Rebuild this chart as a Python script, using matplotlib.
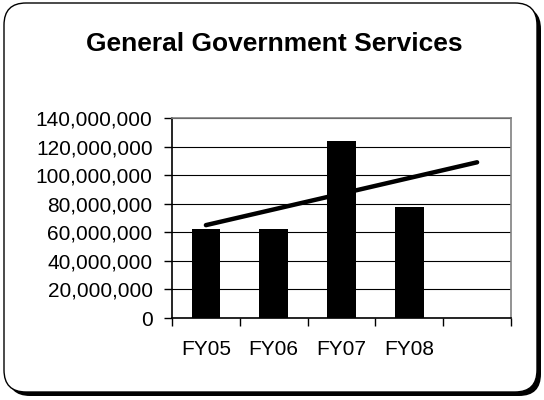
import numpy as np
import matplotlib
matplotlib.use('Agg')
from matplotlib import pyplot as plt
from matplotlib.patches import FancyBboxPatch
from matplotlib.ticker import FuncFormatter

categories = ['FY05', 'FY06', 'FY07', 'FY08', '']
spending = [62000000, 62000000, 124000000, 78000000]
title = 'General Government Services'

plt.rcParams['font.family'] = ['Liberation Sans', 'DejaVu Sans']

fig = plt.figure(figsize=(5.44, 4), dpi=100)

# background layer in pixel units for the rounded frame + shadow
bg = fig.add_axes([0, 0, 1, 1])
bg.set_xlim(0, 544)
bg.set_ylim(400, 0)
bg.axis('off')
shadow = FancyBboxPatch((8, 7), 533, 389, boxstyle='round,pad=0,rounding_size=22',
                        facecolor='black', edgecolor='black', lw=0)
frame = FancyBboxPatch((4, 3), 533, 389, boxstyle='round,pad=0,rounding_size=22',
                       facecolor='white', edgecolor='black', lw=1.0)
bg.add_patch(shadow)
bg.add_patch(frame)

fig.text(274 / 544, 1 - 44 / 400, title, ha='center', va='center',
         fontsize=19, fontweight='bold')

ax = fig.add_axes([172 / 544, 1 - 318 / 400, 339 / 544, 200 / 400])
ax.patch.set_alpha(0)

x = np.arange(len(spending))
ax.bar(x, spending, width=0.42, color='black', zorder=3)

# linear trend, carried one period forward
coef = np.polyfit(x, spending, 1)
xt = np.arange(len(categories))
ax.plot(xt, np.polyval(coef, xt), color='black', lw=3.2, solid_capstyle='round', zorder=4)

ax.set_xlim(-0.5, len(categories) - 0.5)
ax.set_ylim(0, 140000000)
ax.set_yticks(np.arange(0, 140000001, 20000000))
ax.yaxis.set_major_formatter(FuncFormatter(lambda v, p: f'{int(v):,}'))
ax.grid(axis='y', color='black', lw=0.8, zorder=1)

ax.set_xticks(xt)
ax.set_xticklabels(categories)
ax.set_xticks(np.arange(-0.5, len(categories), 1), minor=True)
ax.tick_params(axis='x', which='major', length=0, pad=16, labelsize=15)
ax.tick_params(axis='x', which='minor', length=6, width=1, color='black', direction='out')
ax.tick_params(axis='y', length=6, width=1, pad=8, labelsize=15)

ax.spines['left'].set_color('black')
ax.spines['bottom'].set_color('black')
ax.spines['top'].set_color('#808080')
ax.spines['right'].set_color('#808080')
for s in ax.spines.values():
    s.set_linewidth(1.2)

fig.savefig('out.png', dpi=100)
